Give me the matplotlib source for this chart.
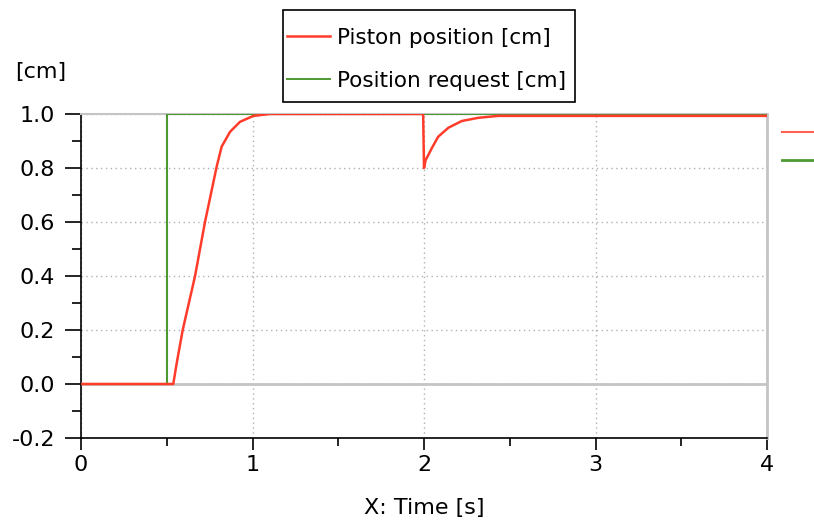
import numpy as np
import matplotlib
matplotlib.use("Agg")
import matplotlib.pyplot as plt
from matplotlib.lines import Line2D
from matplotlib.patches import Rectangle
from matplotlib.ticker import MultipleLocator

# --- data ---
t_request = [0.0, 0.5, 0.5, 4.0]
request = [0.0, 0.0, 1.0, 1.0]

t_piston = [0.0, 0.5, 0.538, 0.558, 0.593, 0.665, 0.723, 0.791, 0.820, 0.869, 0.927,
            1.005, 1.10, 1.995, 2.0, 2.01, 2.025, 2.045, 2.083, 2.142, 2.22, 2.317,
            2.433, 4.0]
piston = [0.0, 0.0, 0.0, 0.077, 0.20, 0.40, 0.60, 0.805, 0.879, 0.934, 0.971,
          0.993, 1.0, 1.0, 0.80, 0.83, 0.848, 0.873, 0.916, 0.949, 0.974, 0.986,
          0.993, 0.993]

x_ticks = [0, 1, 2, 3, 4]
y_ticks = [-0.2, 0.0, 0.2, 0.4, 0.6, 0.8, 1.0]

red = '#ff3b2a'
green = '#4e9a32'
gray = '#c4c4c4'

plt.rcParams['font.family'] = ['DejaVu Sans']

fig = plt.figure(figsize=(8.14, 5.29), dpi=100)
ax = fig.add_axes([81 / 814, 1 - 438 / 529, (767 - 81) / 814, (438 - 114) / 529])

ax.axhline(0.0, color=gray, lw=2.0, zorder=1)
ax.plot(t_request, request, color=green, lw=1.5, zorder=3)
ax.plot(t_piston, piston, color=red, lw=1.8, zorder=4)

ax.set_xlim(0, 4)
ax.set_ylim(-0.2, 1.0)
ax.set_xticks(x_ticks)
ax.set_yticks(y_ticks)
ax.set_yticklabels([f'{v:.1f}' for v in y_ticks])
ax.xaxis.set_minor_locator(MultipleLocator(0.5))
ax.yaxis.set_minor_locator(MultipleLocator(0.1))
ax.tick_params(axis='y', which='major', direction='out', length=11.5, width=1.2,
               labelsize=16, pad=7)
ax.tick_params(axis='y', which='minor', direction='out', length=6.5, width=1.2)
ax.tick_params(axis='x', which='major', direction='out', length=8.5, width=1.2,
               labelsize=16, pad=4)
ax.tick_params(axis='x', which='minor', direction='out', length=6, width=1.2)

ax.grid(True, which='major', linestyle=(0, (1, 2.5)), color='#b0b0b0', lw=1.0)
ax.set_axisbelow(True)

ax.spines['left'].set_color('black')
ax.spines['bottom'].set_color('black')
ax.spines['left'].set_linewidth(1.2)
ax.spines['bottom'].set_linewidth(1.2)
ax.spines['top'].set_color(gray)
ax.spines['right'].set_color(gray)
ax.spines['top'].set_linewidth(1.5)
ax.spines['right'].set_linewidth(2.0)

ax.set_xlabel('X: Time [s]', fontsize=16, labelpad=16)
fig.text(15 / 814, 1 - 72 / 529, '[cm]', fontsize=16, va='center', ha='left')

# legend box drawn separately so its padding can differ from the row spacing
fig.add_artist(Rectangle((283 / 814, 1 - 102 / 529), (575 - 283) / 814, 92 / 529,
                         transform=fig.transFigure, facecolor='white',
                         edgecolor='black', lw=1.2, zorder=5))
handles = [Line2D([], [], color=red, lw=1.8), Line2D([], [], color=green, lw=1.4)]
leg = fig.legend(handles, ['Piston position [cm]', 'Position request [cm]'],
                 loc='upper left', bbox_to_anchor=(287 / 814, 1 - 28 / 529),
                 bbox_transform=fig.transFigure, frameon=False,
                 fontsize=15.5, handlelength=2.0, handletextpad=0.3,
                 borderpad=0.0, labelspacing=1.05, borderaxespad=0)
leg.set_zorder(6)

# stubs at the right edge
fig.add_artist(Line2D([782 / 814, 1.0], [1 - 132 / 529] * 2, color=red, lw=1.5,
                      transform=fig.transFigure, alpha=0.8))
fig.add_artist(Line2D([782 / 814, 1.0], [1 - 160 / 529] * 2, color=green, lw=2.0,
                      transform=fig.transFigure))

fig.savefig('out.png', dpi=100)
